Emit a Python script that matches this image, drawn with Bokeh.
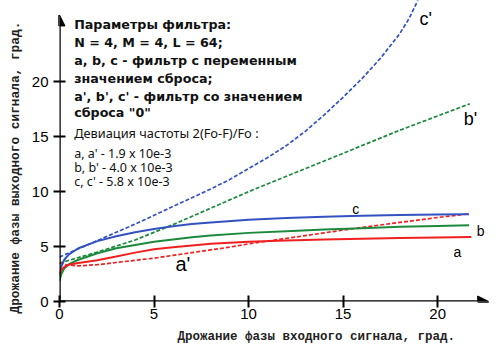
from bokeh.plotting import figure
from bokeh.models import Arrow, NormalHead, Label, FixedTicker, Title
from bokeh.embed import file_html
from bokeh.resources import INLINE

# ---- data ----
x_c_dash = [0, 1, 2, 3, 4, 5, 6, 7, 8, 9, 10, 11, 12, 13, 14, 15, 16, 17, 18, 18.5, 19]
y_c_dash = [4.05, 4.8, 5.55, 6.3, 7.05, 7.85, 8.65, 9.45, 10.25, 11.1, 12.1, 13.1, 14.2, 15.5, 17.0, 18.6, 20.3, 22.2, 24.4, 25.8, 27.6]

x_b_dash = [0, 2, 4, 6, 8, 10, 12, 14, 16, 18, 20, 21.7]
y_b_dash = [3.5, 4.5, 5.6, 7.0, 8.5, 10.0, 11.4, 12.8, 14.2, 15.6, 16.9, 18.0]

x_a_dash = [0, 0.3, 1, 2, 3, 4, 5, 6, 7, 8, 9, 10, 12, 14, 16, 18, 20, 21.66]
y_a_dash = [3.55, 3.35, 3.25, 3.35, 3.55, 3.75, 3.95, 4.2, 4.45, 4.7, 4.95, 5.25, 5.75, 6.25, 6.75, 7.2, 7.65, 8.0]

x_c = [0, 0.1, 0.25, 0.5, 1, 2, 3, 4, 5, 6, 7, 8, 10, 12, 14, 16, 18, 20, 21.66]
y_c = [2.3, 3.2, 3.8, 4.3, 4.85, 5.5, 5.95, 6.3, 6.6, 6.85, 7.05, 7.2, 7.45, 7.6, 7.72, 7.82, 7.88, 7.92, 7.95]

x_b = [0, 0.1, 0.25, 0.5, 1, 2, 3, 4, 5, 6, 7, 8, 10, 12, 14, 16, 18, 20, 21.66]
y_b = [1.9, 2.5, 3.0, 3.4, 3.8, 4.4, 4.85, 5.15, 5.45, 5.65, 5.85, 6.0, 6.25, 6.4, 6.55, 6.68, 6.8, 6.88, 6.94]

x_a = [0, 0.1, 0.3, 0.6, 1, 2, 3, 4, 5, 6, 7, 8, 10, 12, 14, 16, 18, 20, 21.78]
y_a = [2.5, 2.9, 3.2, 3.4, 3.5, 3.75, 4.1, 4.45, 4.75, 4.95, 5.1, 5.25, 5.45, 5.55, 5.65, 5.72, 5.78, 5.83, 5.87]

x_ticks = [0, 5, 10, 15, 20]
y_ticks = [0, 5, 10, 15, 20]

x_title = "Дрожание фазы входного сигнала, град."
y_title = "Дрожание фазы выходного сигнала, град."

info_bold = ["Параметры фильтра:",
             "N = 4, M = 4, L = 64;",
             "a, b, c - фильтр с переменным",
             "значением сброса;",
             "a', b', c' - фильтр со значением",
             "сброса \"0\""]
info_dev = "Девиация частоты 2(Fo-F)/Fo :"
info_vals = ["a, a' - 1.9 x 10e-3",
             "b, b' - 4.0 x 10e-3",
             "c, c' - 5.8 x 10e-3"]

BLUE = "#3352c2"
GREEN = "#1b8a3c"
RED = "#f02020"

SX = 18.95   # px per x unit
SY = 10.98   # px per y unit
L0 = 58      # frame left (px)
B0 = 301     # frame bottom (px from top)

p = figure(width=500, height=351, output_backend="svg", toolbar_location=None,
           x_range=(0, 442 / SX), y_range=(0, 301 / SY),
           min_border_left=L0, min_border_bottom=351 - B0, min_border_top=0, min_border_right=0,
           background_fill_color="white", border_fill_color="white")
p.outline_line_color = None
p.grid.visible = False

for ax, ticks in ((p.xaxis, x_ticks), (p.yaxis, y_ticks)):
    ax.ticker = FixedTicker(ticks=ticks)
    ax.axis_line_color = None
    ax.major_tick_line_color = "black"
    ax.major_tick_line_width = 2
    ax.major_tick_in = 6
    ax.major_tick_out = 6
    ax.minor_tick_line_color = None
    ax.major_label_text_font = "Liberation Sans"
    ax.major_label_text_font_size = "15px"
    ax.major_label_text_color = "black"

p.xaxis.major_label_standoff = 1
p.yaxis.major_label_standoff = 5

# axis titles as side titles (so they can be offset like in the reference)
xt = Title(text=x_title, align="left", offset=176 - L0, text_font="Liberation Mono",
           text_font_style="bold", text_font_size="12.5px", text_color="#222222")
yt = Title(text=y_title, align="left", offset=-12, text_font="Liberation Mono",
           text_font_style="bold", text_font_size="12.8px", text_color="#222222")
try:
    xt.standoff = 12
    yt.standoff = 11
except Exception:
    pass
p.add_layout(xt, "below")
p.add_layout(yt, "left")

# curves
p.line(x_c_dash, y_c_dash, line_color=BLUE, line_width=1.7, line_dash="4 2")
p.line(x_b_dash, y_b_dash, line_color=GREEN, line_width=1.7, line_dash="4 2")
p.line(x_a_dash, y_a_dash, line_color=RED, line_width=1.7, line_dash="4 2")
p.line(x_c, y_c, line_color=BLUE, line_width=2)
p.line(x_b, y_b, line_color=GREEN, line_width=2)
p.line(x_a, y_a, line_color=RED, line_width=2)

# axes with arrows
p.add_layout(Arrow(end=NormalHead(size=11, fill_color="black", line_color="black"),
                   x_start=0, y_start=0, x_end=22.7, y_end=0,
                   line_width=2.5, line_color="black"))
p.add_layout(Arrow(end=NormalHead(size=11, fill_color="black", line_color="black"),
                   x_start=0, y_start=0, x_end=0, y_end=26.1,
                   line_width=2.5, line_color="black"))

def dx(px):
    return (px - L0) / SX

def dy(py):
    return (B0 - py) / SY

# info text
x0 = dx(72.7)
bold_y = [24, 41.7, 60, 77.7, 95.7, 112.3]
for t, yy in zip(info_bold, bold_y):
    p.add_layout(Label(x=x0, y=dy(yy), text=t, text_font="DejaVu Sans", text_font_style="bold",
                       text_font_size="12.7px", text_baseline="middle", text_color="#111111"))
p.add_layout(Label(x=x0, y=dy(132.3), text=info_dev, text_font="Noto Sans",
                   text_font_size="12.8px", text_baseline="middle", text_color="#111111"))
for t, yy in zip(info_vals, [152.7, 166.7, 180.7]):
    p.add_layout(Label(x=x0, y=dy(yy), text=t, text_font="Noto Sans",
                       text_font_size="12.5px", text_baseline="middle", text_color="#111111"))

# curve labels
curve_labels = [("c'", 425, 18, "18px"), ("b'", 470, 118.3, "18px"),
                ("c", 355, 208, "14px"), ("b", 480, 230, "14px"),
                ("a", 456.7, 251.7, "14px"), ("a'", 181.7, 263.3, "20px")]
for t, xx, yy, fs in curve_labels:
    p.add_layout(Label(x=dx(xx), y=dy(yy), text=t, text_font="Liberation Sans", text_font_size=fs,
                       text_align="center", text_baseline="middle", text_color="black"))

open("out.html", "w").write(file_html(p, INLINE))
